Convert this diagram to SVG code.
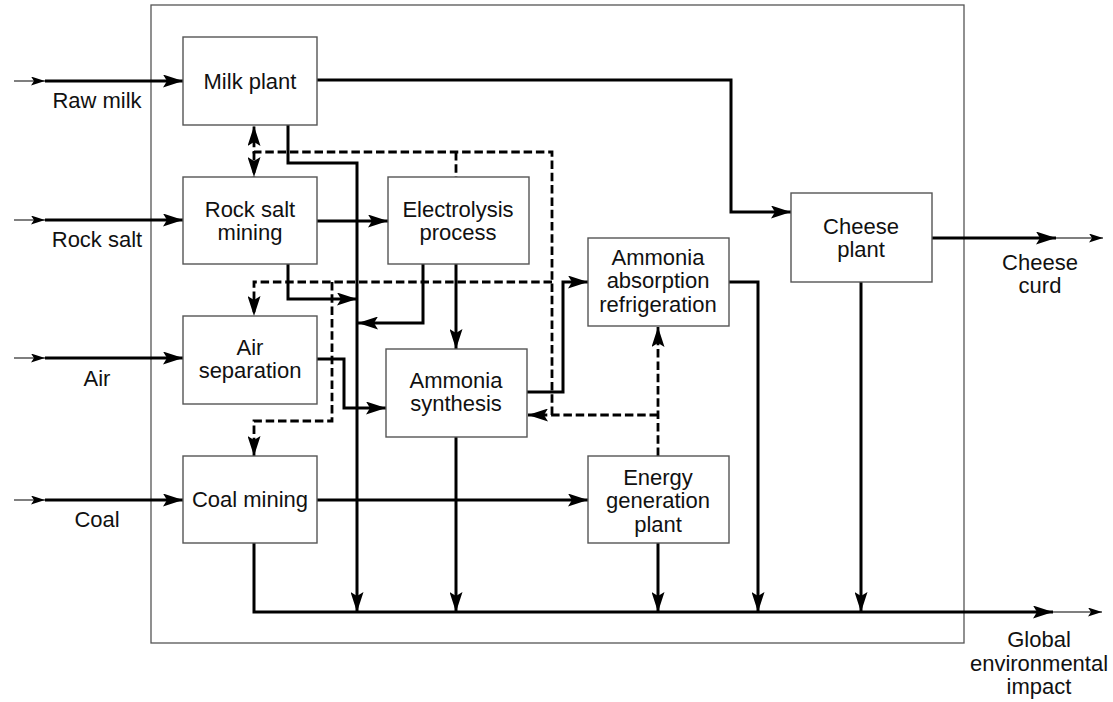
<svg xmlns="http://www.w3.org/2000/svg" width="1113" height="702" viewBox="0 0 1113 702">
<style>
.box{fill:#fff;stroke:#555;stroke-width:1.4}
.frame{fill:none;stroke:#555;stroke-width:1.3}
.t{font-family:"Liberation Sans",Arial,sans-serif;font-size:22px;fill:#111;text-anchor:middle}
.s{fill:none;stroke:#000;stroke-width:3;stroke-linejoin:miter}
.d{fill:none;stroke:#000;stroke-width:2.8;stroke-dasharray:8.5 3.8}
.thin{fill:none;stroke:#555;stroke-width:1.5}
</style>
<defs>
<marker id="a" markerUnits="userSpaceOnUse" markerWidth="20" markerHeight="13" viewBox="0 0 20 13" refX="20" refY="6.5" orient="auto">
<path d="M0,0 L20,6.5 L0,13 L4,6.5 Z" fill="#000"/>
</marker>
<marker id="sa" markerUnits="userSpaceOnUse" markerWidth="14" markerHeight="9" viewBox="0 0 14 9" refX="14" refY="4.5" orient="auto">
<path d="M0,0 L14,4.5 L0,9 L3,4.5 Z" fill="#000"/>
</marker>
</defs>
<rect x="151" y="5" width="813" height="638" class="frame"/>
<g id="connectors">
<path class="thin" d="M14,81 H45" marker-end="url(#sa)"/>
<path class="s" d="M45,81 H183" marker-end="url(#a)"/>
<path class="thin" d="M14,220 H45" marker-end="url(#sa)"/>
<path class="s" d="M45,220 H183" marker-end="url(#a)"/>
<path class="thin" d="M14,358 H45" marker-end="url(#sa)"/>
<path class="s" d="M45,358 H183" marker-end="url(#a)"/>
<path class="thin" d="M14,500 H45" marker-end="url(#sa)"/>
<path class="s" d="M45,500 H183" marker-end="url(#a)"/>
<path class="s" d="M317,80 H731 V212 H791" marker-end="url(#a)"/>
<path class="s" d="M288,125 V163 H357 V612" marker-end="url(#a)"/>
<path class="s" d="M317,221 H388" marker-end="url(#a)"/>
<path class="s" d="M288,264 V299 H357" marker-end="url(#a)"/>
<path class="s" d="M423,264 V323 H358" marker-end="url(#a)"/>
<path class="s" d="M456,264 V349" marker-end="url(#a)"/>
<path class="s" d="M317,359 H344 V408 H386" marker-end="url(#a)"/>
<path class="s" d="M527,392 H563 V282 H588" marker-end="url(#a)"/>
<path class="s" d="M729,282 H758 V612" marker-end="url(#a)"/>
<path class="s" d="M456,437 V612" marker-end="url(#a)"/>
<path class="s" d="M317,500 H588" marker-end="url(#a)"/>
<path class="s" d="M658,543 V612" marker-end="url(#a)"/>
<path class="s" d="M861,282 V612" marker-end="url(#a)"/>
<path class="s" d="M254,543 V612 H1053" marker-end="url(#a)"/>
<path class="thin" d="M1053,612 H1102" marker-end="url(#sa)"/>
<path class="s" d="M932,238 H1056" marker-end="url(#a)"/>
<path class="thin" d="M1056,238 H1103" marker-end="url(#sa)"/>
<path class="d" d="M658,456 V327" marker-end="url(#a)"/>
<path class="d" d="M658,415 H528" marker-end="url(#a)"/>
<path class="d" d="M552,415 V152 H254 V126" marker-end="url(#a)"/>
<path class="d" d="M254,152 V177" marker-end="url(#a)"/>
<path class="d" d="M456,152 V177"/>
<path class="d" d="M552,282 H254 V316" marker-end="url(#a)"/>
<path class="d" d="M332,282 V421 H254 V456" marker-end="url(#a)"/>
</g>
<g id="milk-plant"><rect class="box" x="183" y="37" width="134" height="88"/><text class="t" x="250" y="89">Milk plant</text></g>
<g id="rock-salt-mining"><rect class="box" x="183" y="177" width="134" height="87"/><text class="t" x="250" y="217">Rock salt</text><text class="t" x="250" y="240">mining</text></g>
<g id="electrolysis"><rect class="box" x="388" y="177" width="141" height="87"/><text class="t" x="458" y="217">Electrolysis</text><text class="t" x="458" y="240">process</text></g>
<g id="air-separation"><rect class="box" x="183" y="316" width="134" height="88"/><text class="t" x="250" y="355">Air</text><text class="t" x="250" y="378">separation</text></g>
<g id="ammonia-synthesis"><rect class="box" x="386" y="349" width="141" height="88"/><text class="t" x="456" y="388">Ammonia</text><text class="t" x="456" y="411">synthesis</text></g>
<g id="ammonia-absorption"><rect class="box" x="588" y="238" width="141" height="88"/><text class="t" x="658" y="265">Ammonia</text><text class="t" x="658" y="288">absorption</text><text class="t" x="658" y="312">refrigeration</text></g>
<g id="coal-mining"><rect class="box" x="183" y="456" width="134" height="87"/><text class="t" x="250" y="507">Coal mining</text></g>
<g id="energy-generation"><rect class="box" x="588" y="456" width="141" height="87"/><text class="t" x="658" y="485">Energy</text><text class="t" x="658" y="508">generation</text><text class="t" x="658" y="532">plant</text></g>
<g id="cheese-plant"><rect class="box" x="791" y="193" width="141" height="89"/><text class="t" x="861" y="234">Cheese</text><text class="t" x="861" y="257">plant</text></g>
<g id="labels">
<text class="t" x="97" y="108">Raw milk</text>
<text class="t" x="97" y="247">Rock salt</text>
<text class="t" x="97" y="386">Air</text>
<text class="t" x="97" y="527">Coal</text>
<text class="t" x="1040" y="270">Cheese</text>
<text class="t" x="1040" y="293">curd</text>
<text class="t" x="1039" y="647">Global</text>
<text class="t" x="1039" y="671">environmental</text>
<text class="t" x="1039" y="694">impact</text>
</g>
</svg>
